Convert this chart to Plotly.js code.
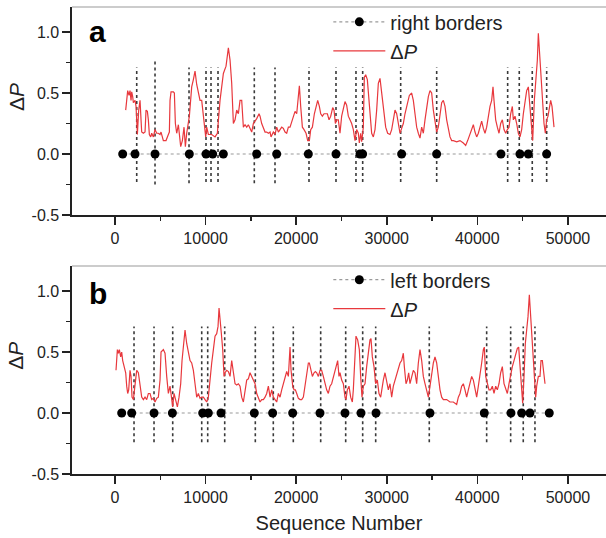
<!DOCTYPE html>
<html>
<head>
<meta charset="utf-8">
<script src="https://cdn.plot.ly/plotly-3.0.1.min.js"></script>
<style>html,body{margin:0;padding:0;background:#fff;}#chart{width:606px;height:538px;}</style>
</head>
<body>
<div id="chart"></div>
<script>
// ---- Panel a: right borders ----
const aBorderX = [846, 2207, 4415, 8204, 10044, 10780, 11957, 15636, 17844, 21340, 24393, 27042, 27336, 31640, 35504, 42605, 44702, 45622, 47645];
const aLineX = [2395, 4415, 8168, 10044, 10596, 11369, 15375, 17660, 21413, 24393, 26600, 27340, 31534, 35508, 43344, 44625, 46060, 47650];
const aLineTop = [0.71, 0.77, 0.71, 0.71, 0.71, 0.71, 0.71, 0.71, 0.71, 0.71, 0.71, 0.71, 0.71, 0.71, 0.71, 0.71, 0.71, 0.71];
const aLineBottom = [-0.23, -0.25, -0.24, -0.23, -0.23, -0.23, -0.24, -0.24, -0.23, -0.23, -0.23, -0.23, -0.23, -0.23, -0.23, -0.23, -0.23, -0.23];
const aDPx = [1178,1398,1546,1656,1766,1840,1950,2024,2208,2318,2392,2466,2613,2760,2870,2944,3128,3312,3422,3570,3680,3790,3938,4048,4232,4416,4600,4784,4968,5078,5336,5630,5888,5998,6072,6182,6440,6550,6661,6808,6992,7102,7250,7434,7618,7765,7912,8206,8464,8648,8832,9016,9200,9384,9568,9752,9862,10010,10120,10304,10672,11040,11298,11592,11960,12254,12512,12696,12880,13064,13248,13432,13616,13800,13984,14168,14352,14536,14720,14904,15088,15272,15640,15898,16008,16192,16376,16560,16744,16928,17112,17222,17480,17664,17848,18032,18216,18400,18584,18768,18952,19136,19320,19504,19688,19872,20056,20350,20498,20682,20866,21086,21270,21454,21602,21786,22006,22190,22374,22558,22706,22890,23074,23258,23442,23626,23810,24030,24178,24325,24472,24651,24835,25019,25203,25387,25571,25755,25939,26123,26307,26491,26675,26859,26969,27117,27227,27411,27521,27669,27853,28037,28221,28331,28515,28699,28883,29067,29251,29361,29545,29693,29877,30097,30355,30539,30723,30907,31091,31275,31459,31643,31827,32011,32269,32489,32747,32931,33115,33299,33483,33667,33851,34035,34219,34403,34587,34771,34955,35139,35323,35507,35691,35875,36059,36243,36427,36611,36795,36979,37163,37347,37715,38083,38451,38709,38929,39187,39371,39555,39739,39923,40107,40291,40475,40659,40843,41027,41211,41395,41579,41726,41837,42021,42205,42389,42573,42757,42941,43125,43309,43493,43677,43861,43971,44155,44339,44523,44707,44891,45075,45259,45443,45627,45811,45995,46105,46289,46473,46621,46731,46841,46989,47099,47209,47357,47505,47651,47799,47947,48093,48241,48387,48461];
const aDPy = [0.36,0.52,0.48,0.52,0.44,0.51,0.47,0.42,0.44,0.39,0.28,0.16,0.36,0.44,0.28,0.18,0.17,0.18,0.36,0.35,0.28,0.16,0.14,0.17,0.14,0.20,0.17,0.17,0.16,0.18,0.11,0.11,0.16,0.18,0.44,0.51,0.51,0.50,0.25,0.17,0.24,0.14,0.06,0.11,0.22,0.06,0.17,0.31,0.55,0.61,0.68,0.57,0.50,0.44,0.44,0.33,0.22,0.14,0.22,0.16,0.16,0.14,0.17,0.44,0.66,0.72,0.87,0.77,0.58,0.25,0.28,0.36,0.33,0.44,0.44,0.22,0.24,0.22,0.24,0.21,0.18,0.25,0.29,0.33,0.31,0.25,0.22,0.18,0.18,0.17,0.18,0.14,0.18,0.16,0.22,0.18,0.20,0.22,0.21,0.18,0.17,0.22,0.22,0.27,0.31,0.35,0.33,0.56,0.39,0.22,0.20,0.17,0.11,0.11,0.20,0.22,0.33,0.39,0.44,0.39,0.33,0.31,0.33,0.33,0.33,0.28,0.31,0.38,0.36,0.25,0.28,0.28,0.17,0.31,0.36,0.43,0.40,0.31,0.28,0.25,0.20,0.11,0.20,0.17,0.09,0.17,0.10,0.22,0.63,0.65,0.61,0.44,0.22,0.17,0.14,0.20,0.36,0.58,0.62,0.55,0.39,0.29,0.22,0.17,0.16,0.20,0.28,0.36,0.33,0.25,0.17,0.21,0.25,0.33,0.42,0.48,0.50,0.44,0.33,0.22,0.17,0.13,0.22,0.17,0.28,0.39,0.47,0.52,0.50,0.36,0.25,0.18,0.22,0.33,0.42,0.44,0.39,0.28,0.20,0.14,0.11,0.11,0.10,0.11,0.09,0.07,0.11,0.16,0.21,0.24,0.18,0.14,0.17,0.22,0.27,0.21,0.17,0.22,0.31,0.39,0.44,0.55,0.44,0.28,0.22,0.17,0.25,0.28,0.20,0.17,0.20,0.22,0.33,0.39,0.28,0.31,0.25,0.17,0.14,0.20,0.33,0.44,0.52,0.55,0.39,0.22,0.11,0.44,0.63,0.77,0.99,0.85,0.74,0.61,0.44,0.25,0.17,0.28,0.31,0.39,0.44,0.39,0.25,0.22];

// ---- Panel b: left borders ----
const bBorderX = [736, 1840, 4305, 6330, 9680, 10300, 11700, 15375, 17400, 19610, 22627, 25386, 27152, 28808, 34768, 40762, 43709, 44890, 45806, 47936];
const bLineX = [2097, 4305, 6369, 9570, 10232, 12108, 15486, 17472, 19680, 22704, 25464, 27340, 28775, 34691, 41026, 43675, 45066, 46358];
const bLineTop = [0.71, 0.71, 0.71, 0.71, 0.71, 0.71, 0.71, 0.71, 0.71, 0.71, 0.71, 0.71, 0.71, 0.71, 0.71, 0.71, 0.71, 0.71];
const bLineBottom = [-0.24, -0.24, -0.24, -0.24, -0.24, -0.24, -0.24, -0.24, -0.24, -0.24, -0.24, -0.24, -0.24, -0.24, -0.24, -0.24, -0.24, -0.24];
const bDPx = [110,258,368,478,626,736,846,994,1178,1288,1398,1509,1656,1766,1877,2024,2208,2392,2576,2760,2944,3128,3312,3496,3680,3864,4048,4232,4416,4600,4784,4968,5078,5336,5520,5704,5888,6072,6256,6366,6514,6698,6882,7066,7250,7397,7544,7728,7912,8096,8280,8464,8648,8832,9016,9200,9384,9568,9752,9936,10120,10304,10488,10672,10856,11040,11224,11371,11482,11592,11739,11886,12034,12144,12328,12512,12696,12880,13064,13248,13432,13616,13800,13984,14168,14352,14536,14720,14904,15088,15272,15456,15640,15824,16008,16192,16376,16560,16744,16928,17112,17296,17480,17664,17848,18032,18216,18400,18584,18768,18952,19136,19320,19430,19614,19762,19909,20056,20240,20424,20608,20792,20976,21160,21344,21454,21602,21786,21970,22117,22264,22448,22632,22811,22995,23179,23363,23547,23731,23915,24099,24283,24467,24577,24725,24835,25019,25203,25387,25497,25645,25829,26013,26197,26307,26491,26601,26785,26969,27117,27263,27411,27595,27779,27963,28147,28257,28405,28589,28773,28957,29141,29325,29435,29619,29803,29987,30171,30355,30539,30723,30907,31091,31275,31459,31643,31827,31937,32121,32269,32416,32563,32747,32931,33115,33299,33483,33667,33851,34035,34219,34403,34587,34771,34955,35139,35323,35507,35691,35875,36059,36243,36611,36979,37347,37531,37715,37899,38083,38267,38451,38635,38819,39003,39187,39371,39555,39739,39923,40107,40291,40475,40659,40769,40917,41101,41285,41469,41653,41837,42021,42205,42389,42573,42757,42941,43125,43309,43493,43677,43861,44045,44229,44413,44561,44707,44891,45001,45149,45295,45443,45589,45737,45885,46033,46179,46289,46437,46547,46731,46915,47025,47173,47319,47467];
const bDPy = [0.35,0.52,0.49,0.52,0.46,0.50,0.43,0.39,0.33,0.22,0.16,0.19,0.35,0.30,0.13,0.11,0.24,0.35,0.33,0.22,0.13,0.11,0.13,0.11,0.16,0.16,0.11,0.12,0.09,0.12,0.13,0.27,0.50,0.52,0.49,0.30,0.16,0.22,0.11,0.05,0.16,0.11,0.05,0.13,0.24,0.43,0.52,0.68,0.57,0.49,0.43,0.41,0.35,0.24,0.13,0.16,0.12,0.13,0.13,0.11,0.09,0.13,0.30,0.41,0.52,0.63,0.65,0.71,0.86,0.79,0.65,0.52,0.30,0.33,0.35,0.34,0.30,0.43,0.35,0.24,0.23,0.24,0.22,0.13,0.09,0.19,0.27,0.28,0.33,0.30,0.27,0.24,0.16,0.13,0.09,0.11,0.11,0.13,0.16,0.22,0.13,0.19,0.13,0.11,0.09,0.16,0.13,0.19,0.24,0.31,0.34,0.30,0.54,0.35,0.22,0.19,0.19,0.16,0.12,0.11,0.11,0.13,0.22,0.33,0.41,0.41,0.35,0.30,0.33,0.34,0.33,0.30,0.35,0.35,0.30,0.24,0.19,0.16,0.22,0.24,0.30,0.35,0.41,0.43,0.30,0.33,0.27,0.24,0.13,0.11,0.19,0.22,0.13,0.09,0.19,0.52,0.63,0.60,0.52,0.30,0.13,0.22,0.24,0.38,0.52,0.60,0.61,0.46,0.38,0.24,0.27,0.16,0.13,0.19,0.27,0.33,0.24,0.19,0.24,0.13,0.22,0.27,0.33,0.38,0.41,0.43,0.49,0.38,0.24,0.27,0.33,0.24,0.30,0.35,0.33,0.24,0.41,0.52,0.43,0.30,0.24,0.19,0.13,0.22,0.33,0.41,0.46,0.41,0.30,0.19,0.13,0.11,0.11,0.09,0.09,0.08,0.07,0.13,0.16,0.22,0.24,0.19,0.13,0.19,0.24,0.30,0.27,0.19,0.13,0.22,0.30,0.41,0.52,0.54,0.30,0.24,0.19,0.19,0.22,0.16,0.22,0.19,0.24,0.33,0.38,0.24,0.19,0.16,0.24,0.33,0.38,0.43,0.49,0.53,0.54,0.41,0.19,0.08,0.30,0.57,0.68,0.79,0.97,0.79,0.63,0.46,0.24,0.13,0.22,0.30,0.30,0.43,0.43,0.35,0.24];

// ---- axis ticks ----
const xTickVals = [0, 10000, 20000, 30000, 40000, 50000];
const xTickText = ['0', '10000', '20000', '30000', '40000', '50000'];
const yTickVals = [-0.5, 0, 0.5, 1.0];
const yTickText = ['-0.5', '0.0', '0.5', '1.0'];

function vlines(xs, tops, bottoms) {
  const x = [], y = [];
  xs.forEach((v, i) => { x.push(v, v, null); y.push(bottoms[i], tops[i], null); });
  return {x, y};
}
const va = vlines(aLineX, aLineTop, aLineBottom);
const vb = vlines(bLineX, bLineTop, bLineBottom);

const RED = '#e8383d';
const traces = [
  {x: va.x, y: va.y, xaxis: 'x', yaxis: 'y', mode: 'lines', showlegend: false, hoverinfo: 'skip',
   line: {color: '#3a3a3a', width: 1.6, dash: 'dot'}},
  {x: aDPx, y: aDPy, xaxis: 'x', yaxis: 'y', mode: 'lines', name: 'Δ<i>P</i>', legend: 'legend', legendrank: 2,
   line: {color: RED, width: 1.2}},
  {x: aBorderX, y: aBorderX.map(() => 0), xaxis: 'x', yaxis: 'y', mode: 'lines+markers', name: 'right borders', legend: 'legend', legendrank: 1,
   line: {color: '#9a9a9a', width: 1.2, dash: 'dot'}, marker: {color: '#000', size: 9}},
  {x: vb.x, y: vb.y, xaxis: 'x2', yaxis: 'y2', mode: 'lines', showlegend: false, hoverinfo: 'skip',
   line: {color: '#3a3a3a', width: 1.6, dash: 'dot'}},
  {x: bDPx, y: bDPy, xaxis: 'x2', yaxis: 'y2', mode: 'lines', name: 'Δ<i>P</i>', legend: 'legend2', legendrank: 2,
   line: {color: RED, width: 1.2}},
  {x: bBorderX, y: bBorderX.map(() => 0), xaxis: 'x2', yaxis: 'y2', mode: 'lines+markers', name: 'left borders', legend: 'legend2', legendrank: 1,
   line: {color: '#9a9a9a', width: 1.2, dash: 'dot'}, marker: {color: '#000', size: 9}}
];

const FONT = 'Liberation Sans, Arial, Helvetica, sans-serif';
function xax(anchor, withTitle) {
  const a = {
    anchor: anchor, domain: [0, 1], range: [-4750, 54200],
    tickmode: 'array', tickvals: xTickVals, ticktext: xTickText,
    ticks: 'outside', ticklen: 8, tickwidth: 1.5, tickcolor: '#222',
    minor: {tickmode: 'linear', tick0: 0, dtick: 5000, ticks: 'outside', ticklen: 4, tickwidth: 1.5, tickcolor: '#222', showgrid: false},
    showline: true, linecolor: '#222', linewidth: 1.6, showgrid: false, zeroline: false,
    tickfont: {size: 16, color: '#222', family: FONT}
  };
  if (withTitle) a.title = {text: 'Sequence Number', font: {size: 20, color: '#222', family: FONT}, standoff: 11};
  return a;
}
function yax(anchor, domain) {
  return {
    anchor: anchor, domain: domain, range: [-0.5, 1.205],
    tickmode: 'array', tickvals: yTickVals, ticktext: yTickText,
    ticks: 'outside', ticklen: 8, tickwidth: 1.5, tickcolor: '#222',
    minor: {tickmode: 'linear', tick0: 0, dtick: 0.25, ticks: 'outside', ticklen: 4, tickwidth: 1.5, tickcolor: '#222', showgrid: false},
    showline: true, linecolor: '#222', linewidth: 1.6, showgrid: false, zeroline: false,
    tickfont: {size: 16, color: '#222', family: FONT}
  };
}

// paper-y of a pixel row: (474 - py) / 467
const layout = {
  width: 606, height: 538,
  margin: {l: 72, r: 0, t: 7, b: 64},
  paper_bgcolor: '#fff', plot_bgcolor: '#fff',
  font: {family: FONT, color: '#222'},
  xaxis: xax('y', false),
  yaxis: yax('x', [0.5546, 1]),
  xaxis2: xax('y2', true),
  yaxis2: yax('x2', [0, 0.4454]),
  legend: {x: 0.48, y: 1.010, xanchor: 'left', yanchor: 'top', font: {size: 20, family: FONT, color: '#222'},
           bgcolor: 'rgba(0,0,0,0)', tracegroupgap: 0, itemwidth: 52},
  legend2: {x: 0.48, y: 0.4578, xanchor: 'left', yanchor: 'top', font: {size: 20, family: FONT, color: '#222'},
           bgcolor: 'rgba(0,0,0,0)', tracegroupgap: 0, itemwidth: 52},
  shapes: [
    {type: 'line', xref: 'x domain', yref: 'y domain', x0: 0, x1: 1, y0: 1, y1: 1, line: {color: '#9a9a9a', width: 1.2}},
    {type: 'line', xref: 'x2 domain', yref: 'y2 domain', x0: 0, x1: 1, y0: 1, y1: 1, line: {color: '#9a9a9a', width: 1.2}}
  ],
  annotations: [
    {text: '<b>a</b>', xref: 'paper', yref: 'paper', x: 0.028, y: 0.9486, xanchor: 'left', yanchor: 'middle', showarrow: false,
     font: {size: 30, family: FONT, color: '#000'}},
    {text: '<b>b</b>', xref: 'paper', yref: 'paper', x: 0.028, y: 0.3865, xanchor: 'left', yanchor: 'middle', showarrow: false,
     font: {size: 30, family: FONT, color: '#000'}},
    {text: 'Δ<i>P</i>', xref: 'paper', yref: 'paper', xanchor: 'center', yanchor: 'middle', x: -0.105, y: 0.807,
     textangle: -90, showarrow: false, font: {size: 21, family: FONT, color: '#222'}},
    {text: 'Δ<i>P</i>', xref: 'paper', yref: 'paper', xanchor: 'center', yanchor: 'middle', x: -0.105, y: 0.253,
     textangle: -90, showarrow: false, font: {size: 21, family: FONT, color: '#222'}}
  ]
};

Plotly.newPlot('chart', traces, layout, {displayModeBar: false, staticPlot: true});
</script>
</body>
</html>
